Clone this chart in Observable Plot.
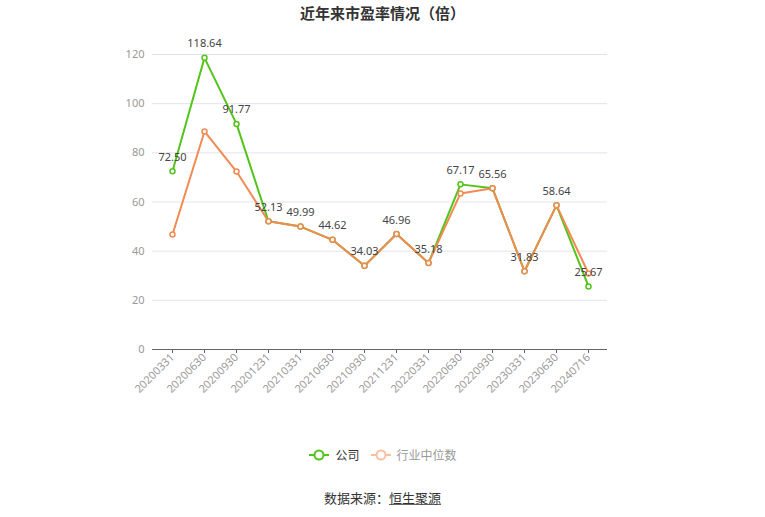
<!DOCTYPE html>
<html>
<head>
<meta charset="utf-8">
<script src="https://cdn.jsdelivr.net/npm/d3@7"></script>
<script src="https://cdn.jsdelivr.net/npm/@observablehq/plot@0.6"></script>
<style>
  html, body { margin: 0; padding: 0; background: #fff; }
  body { width: 765px; height: 517px; position: relative; overflow: hidden;
         font-family: "Noto Sans CJK SC", "Noto Sans", sans-serif; }
  #chart { position: absolute; left: 0; top: 0; }
  .title { position: absolute; top: 2px; left: 0; width: 765px; text-align: center;
           font-size: 15px; font-weight: bold; color: #333; }
  .legend { position: absolute; top: 446px; left: 0; width: 765px; display: flex;
            justify-content: center; font-size: 12px; color: #333; }
  .legend .item { display: flex; align-items: center; margin: 0 5px; }
  .legend svg { margin-right: 5px; }
  .source { position: absolute; top: 488px; left: 0; width: 765px; text-align: center;
            font-size: 13px; color: #333; }
  .source u { text-decoration: underline; text-decoration-color: #666; }
</style>
</head>
<body>
<div class="title">近年来市盈率情况（倍）</div>
<div id="chart"></div>
<div class="legend">
  <div class="item"><svg width="22" height="12"><line x1="1" y1="6" x2="21" y2="6" stroke="#52c41a" stroke-width="2"/><circle cx="11" cy="6" r="4.5" fill="#fff" stroke="#52c41a" stroke-width="2"/></svg><span>公司</span></div>
  <div class="item"><svg width="22" height="12"><line x1="1" y1="6" x2="21" y2="6" stroke="#fbbfa0" stroke-width="2"/><circle cx="11" cy="6" r="4.5" fill="#fff" stroke="#fbbfa0" stroke-width="2"/></svg><span style="color:#999">行业中位数</span></div>
</div>
<div class="source">数据来源：<u>恒生聚源</u></div>
<script>
const dates = ["20200331","20200630","20200930","20201231","20210331","20210630","20210930","20211231","20220331","20220630","20220930","20230331","20230630","20240716"];
const companyPE = [72.50,118.64,91.77,52.13,49.99,44.62,34.03,46.96,35.18,67.17,65.56,31.83,58.64,25.67];
const industryPE = [46.8,88.7,72.4,52.13,49.99,44.62,34.03,46.96,35.18,63.5,65.56,31.83,58.64,30.9];
const yTicks = [0,20,40,60,80,100,120];

const company = dates.map((d, i) => ({date: d, value: companyPE[i]}));
const industry = dates.map((d, i) => ({date: d, value: industryPE[i]}));

const green = "#52c41a";
const orange = "#f28a52";

const chart = Plot.plot({
  width: 765,
  height: 517,
  marginTop: 54,
  marginBottom: 168,
  marginLeft: 152,
  marginRight: 158,
  style: {fontFamily: "'Noto Sans', 'Noto Sans CJK SC', sans-serif", fontSize: "11px", background: "transparent"},
  x: {type: "point", domain: dates, padding: 0.5, label: null},
  y: {domain: [0, 120], ticks: yTicks, label: null},
  marks: [
    Plot.gridY(yTicks, {stroke: "#e3e3ee", strokeOpacity: 1}),
    Plot.axisY(yTicks, {tickSize: 0, tickPadding: 8, fill: "#999", fontSize: 11, label: null}),
    Plot.axisX({tickRotate: -45, tickSize: 4, stroke: "#666", fill: "#999", fontSize: 11, tickPadding: 2, label: null}),
    Plot.ruleY([0], {stroke: "#666", strokeWidth: 1}),
    Plot.line(company, {x: "date", y: "value", stroke: green, strokeWidth: 2}),
    Plot.line(industry, {x: "date", y: "value", stroke: orange, strokeWidth: 2}),
    Plot.dot(company, {x: "date", y: "value", r: 2.5, fill: "#fff", stroke: green, strokeWidth: 1.5}),
    Plot.dot(industry, {x: "date", y: "value", r: 2.5, fill: "#fff", stroke: orange, strokeWidth: 1.5}),
    Plot.text(company, {x: "date", y: "value", text: d => d.value.toFixed(2), dy: -14, fill: "#444", fontSize: 11})
  ]
});
document.getElementById("chart").appendChild(chart);
</script>
</body>
</html>
